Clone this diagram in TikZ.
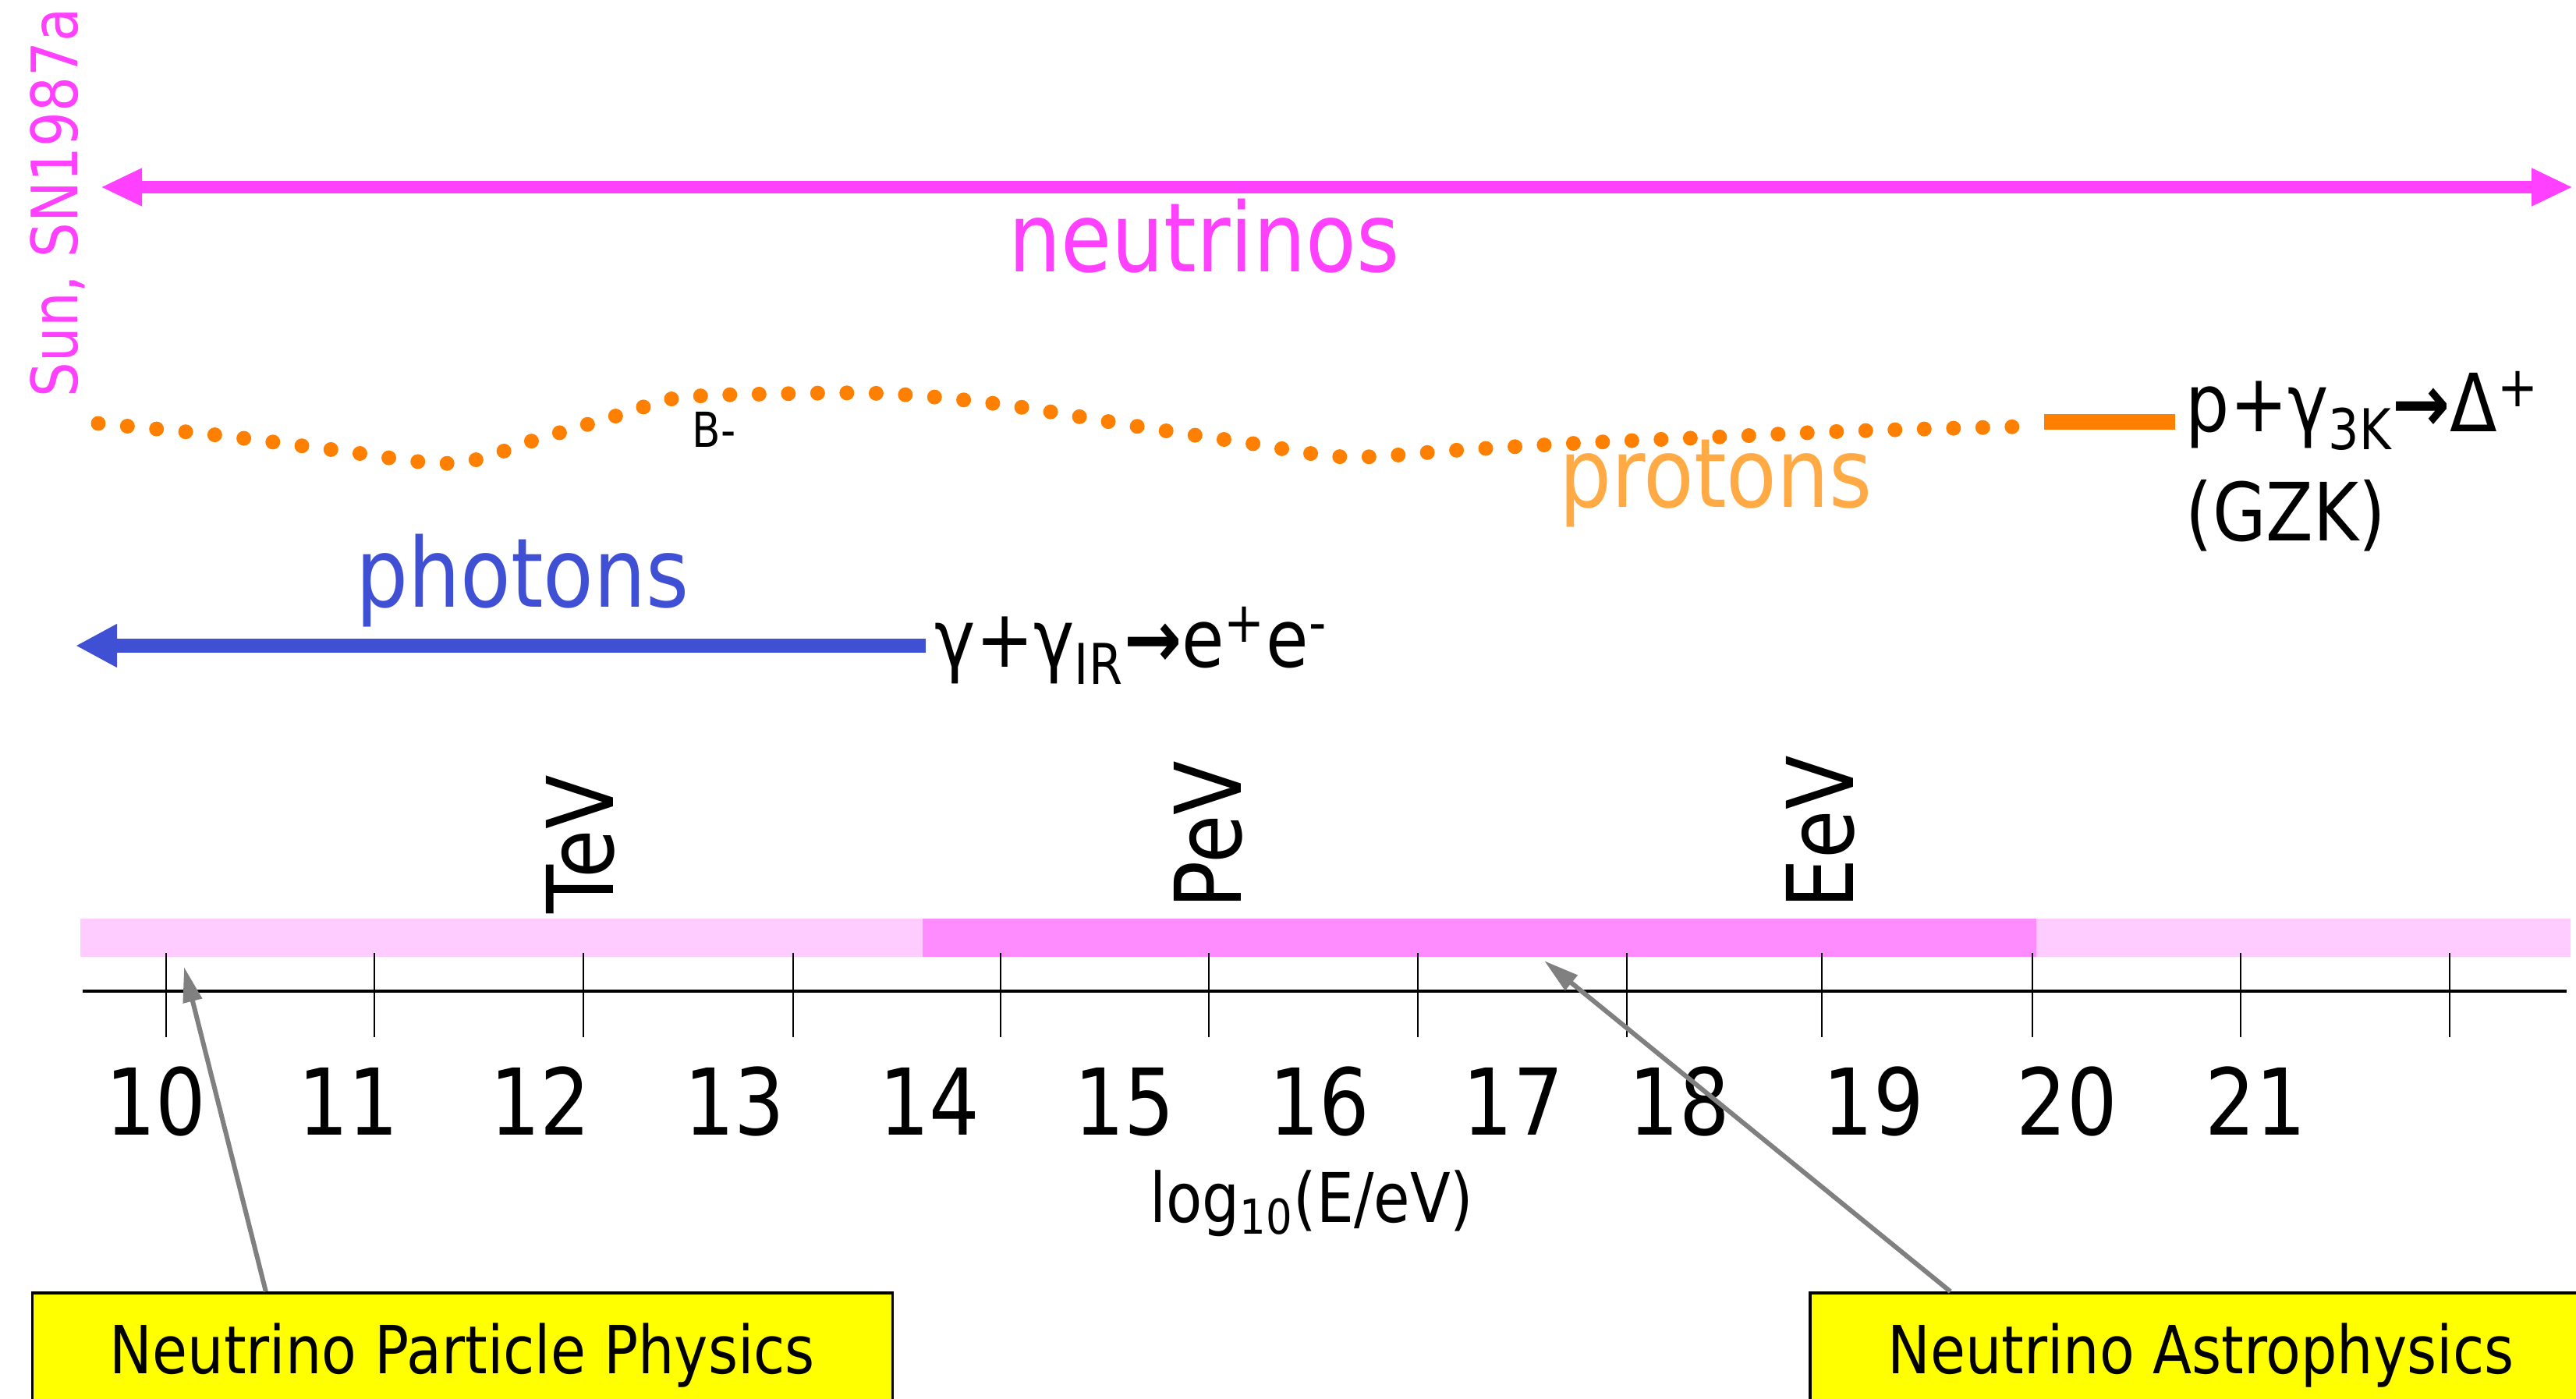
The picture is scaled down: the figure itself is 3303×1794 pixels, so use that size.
\documentclass[tikz,border=0pt]{standalone}
\usepackage{fontspec}
\setmainfont{DejaVu Sans}[FakeStretch=0.86]
\usetikzlibrary{math,arrows.meta}

\definecolor{nucol}{RGB}{255,64,255}
\definecolor{barlight}{RGB}{255,204,255}
\definecolor{bardark}{RGB}{255,140,255}
\definecolor{pcol}{RGB}{255,128,0}
\definecolor{protcol}{RGB}{255,170,68}
\definecolor{phcol}{RGB}{64,80,212}
\definecolor{boxcol}{RGB}{255,255,0}

\newcommand{\fl}{{\bfseries →}}

\begin{document}
\begin{tikzpicture}[x=0.01cm, y=-0.01cm]

	\tikzmath{
		\ya = 1271;   % axe
		\yb = 1178;   % bande : haut
		\yc = 1227;   % bande : bas
	}

	\useasboundingbox (0,0) rectangle (3303,1794);

	\tikzset{
		big/.style={inner sep=0pt, font=\fontsize{35pt}{42pt}\selectfont},
		num/.style={inner sep=0pt, font=\fontsize{33.6pt}{40pt}\selectfont},
		mid/.style={inner sep=0pt, font=\fontsize{29.3pt}{35pt}\selectfont},
		lbl/.style={inner sep=0pt, font=\fontsize{25pt}{30pt}\selectfont}
	}

	% neutrinos : toute la gamme
	\coordinate (nuL) at (129,240);
	\coordinate (nuR) at (3299,240);
	\draw[nucol, line width=0.15cm,
		{Triangle[length=0.53cm,width=0.45cm]}-{Triangle[length=0.53cm,width=0.45cm]}]
	(nuL) -- (nuR);
	\node[big, text=nucol, anchor=base] (nu) at (1544,348) {neutrinos};
	\node[inner sep=0pt, font=\fontsize{23.3pt}{28pt}\selectfont, text=nucol,
		rotate=90, anchor=base west] (sun) at (100,510) {Sun, SN1987a};

	% protons : pointilles puis coupure GZK
	\draw[pcol, line width=5.4pt, line cap=round, dash pattern=on 0pt off 10.67pt]
	plot[smooth, tension=0.55] coordinates {
			(126,543) (279,558) (429,577) (581,594) (690,563) (798,531)
			(871,510) (1000,505) (1140,505) (1287,519) (1466,548) (1600,568)
			(1726,586) (1873,577) (2028,568) (2211,560) (2366,553) (2591,547)
		};
	\node[inner sep=0pt, font=\fontsize{17.6pt}{21pt}\selectfont, anchor=base west]
	(bm) at (887,573) {B-};
	\node[big, text=protcol, anchor=base] (prot) at (2200,650) {protons};

	\node[mid, anchor=base west] (gzk) at (2802,553)
	{p+γ\textsubscript{3K}\fl Δ\textsuperscript{+}};
	\node[mid, anchor=base west] (gzkb) at (2802,693) {(GZK)};
	\coordinate (gzkA) at (2621,541);
	\draw[pcol, line width=0.19cm] (gzkA) -- ([xshift=-0.13cm]gzk.west |- gzkA);

	% photons
	\node[big, text=phcol, anchor=base] (phot) at (670,778) {photons};
	\node[mid, anchor=base west] (gg) at (1198,855)
	{γ+γ\textsubscript{IR}\fl e\textsuperscript{+}e\textsuperscript{-}};
	\coordinate (phtip) at (97,828);
	\draw[phcol, line width=0.18cm, -{Triangle[length=0.53cm,width=0.52cm]}]
	([xshift=-0.11cm]gg.west |- phtip) -- (phtip);

	% axe en energie
	\fill[barlight] (103,\yb) rectangle (3296,\yc);
	\fill[bardark] (1183,\yb) rectangle (2611,\yc);
	\draw[line width=1.4pt] (106,\ya) -- (3291,\ya);
	\foreach \x in {213,480,748,1017,1283,1550,1818,2086,2336,2606,2873,3141}{
			\draw[line width=0.7pt] (\x,1222) -- (\x,1330);
		}

	\foreach \v/\x in {10/200,11/447,12/693,13/942,14/1192,15/1442,
			16/1692,17/1940,18/2153,19/2402,20/2650,21/2892}{
			\node[num, anchor=base] (n\v) at (\x,1455) {\v};
		}

	\foreach \u/\x/\y in {TeV/786/1172, PeV/1591/1166, EeV/2376/1166}{
			\node[num, rotate=90, anchor=base west] (\u) at (\x,\y) {\u};
		}

	\node[lbl, anchor=base] (logE) at (1682,1567) {log\textsubscript{10}(E/eV)};

	% boites
	\tikzset{boite/.style={
				draw=black, line width=1pt, fill=boxcol, inner sep=0pt,
				minimum height=1.6cm,
				font=\fontsize{24.2pt}{29pt}\selectfont
			}}
	\node[boite, minimum width=11.02cm] (npp) at (593,1738) {Neutrino Particle Physics};
	\node[boite, minimum width=10.02cm] (nap) at (2822,1738) {Neutrino Astrophysics};

	\coordinate (tipA) at (236,1240);
	\coordinate (tipB) at (1980,1232);
	\tikzset{ptr/.style={draw=gray, line width=0.06cm,
				-{Triangle[length=0.45cm,width=0.24cm]}}}
	\draw[ptr] ([xshift=-2.52cm]npp.north) -- (tipA);
	\draw[ptr] ([xshift=-3.21cm]nap.north) -- (tipB);

\end{tikzpicture}
\end{document}
